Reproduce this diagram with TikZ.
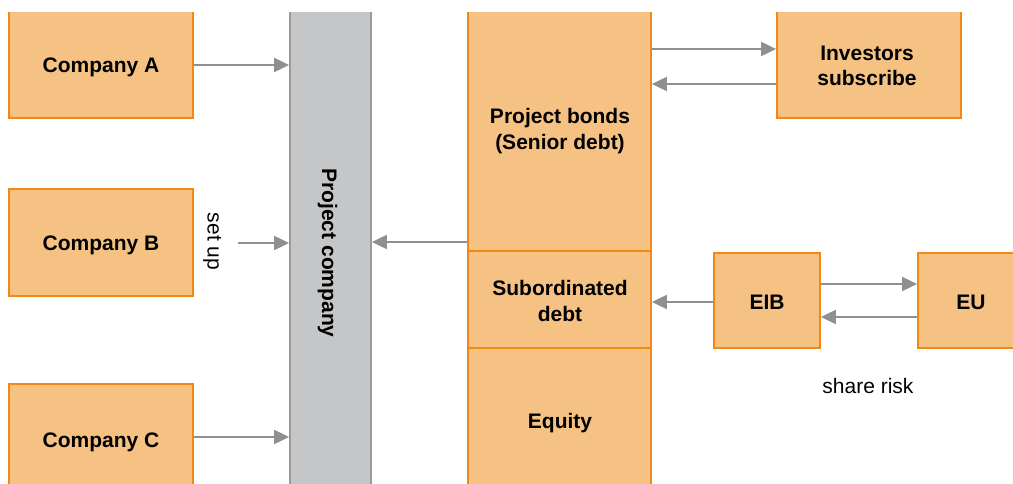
\documentclass[tikz,border=0pt]{standalone}
\usepackage{fontspec}
\setmainfont{Liberation Sans}
\usetikzlibrary{arrows.meta}
\definecolor{boxfill}{HTML}{F5C284}
\definecolor{boxline}{HTML}{F08A12}
\definecolor{barfill}{HTML}{C5C6C8}
\definecolor{barline}{HTML}{999A9C}
\definecolor{arrowgray}{HTML}{8D8F91}
\tikzset{
  box/.style={draw=boxline, fill=boxfill, line width=1.8pt, inner sep=0pt},
  bar/.style={draw=barline, fill=barfill, line width=1.8pt, inner sep=0pt},
  lbl/.style={font=\bfseries\fontsize{21}{25.5}\selectfont, align=center, inner sep=0pt},
  note/.style={font=\fontsize{21}{25.5}\selectfont, inner sep=0pt},
  arr/.style={draw=arrowgray, line width=2pt, -{Triangle[length=15pt,width=14pt]}},
}
\begin{document}
\begin{tikzpicture}[x=1pt,y=-1pt]
\useasboundingbox[fill=white] (0,0) rectangle (1013,484);
\begin{scope}
\clip (0,13) rectangle (1013,484);
% left companies
\node[box, minimum width=184pt, minimum height=138pt] (ca) at (101,49) {};
\node[box, minimum width=184pt, minimum height=107pt] (cb) at (101,242.5) {};
\node[box, minimum width=184pt, minimum height=110pt] (cc) at (101,439) {};
% project company bar
\node[bar, minimum width=81pt, minimum height=524pt] (pc) at (330.5,242) {};
% financing stack
\node[box, minimum width=183pt, minimum height=271pt] (bonds) at (559.5,115.5) {};
\node[box, minimum width=183pt, minimum height=97pt] (sub) at (559.5,299.5) {};
\node[box, minimum width=183pt, minimum height=152pt] (eq) at (559.5,424) {};
% right boxes
\node[box, minimum width=184pt, minimum height=138pt] (inv) at (869,49) {};
\node[box, minimum width=106pt, minimum height=95pt] (eib) at (767,300.5) {};
\node[box, minimum width=122pt, minimum height=95pt] (eu) at (979,300.5) {};
\end{scope}
% texts
\node[lbl, anchor=base] (caT) at (101,73) {Company A};
\node[lbl, anchor=base] (cbT) at (101,251) {Company B};
\node[lbl, anchor=base] (ccT) at (101,447) {Company C};
\node[lbl, anchor=base, rotate=-90] (pcT) at (322,253) {Project company};
\node[lbl] (bondsT) at (560,131) {Project bonds\\(Senior debt)};
\node[lbl] (subT) at (560,301) {Subordinated\\debt};
\node[lbl, anchor=base] (eqT) at (560,428) {Equity};
\node[lbl] (invT) at (867,66) {Investors\\subscribe};
\node[lbl, anchor=base] (eibT) at (767,309) {EIB};
\node[lbl, anchor=base] (euT) at (971,309) {EU};
\node[note, anchor=base, rotate=-90] (setup) at (207.5,241.5) {set up};
\node[note, anchor=base] (share) at (868,393) {share risk};
% connectors
\coordinate (bstart) at (238,243);
\draw[arr] (ca.east |- 0,65) -- (pc.west |- 0,65);
\draw[arr] (bstart) -- (pc.west |- bstart);
\draw[arr] (cc.east |- 0,437) -- (pc.west |- 0,437);
\draw[arr] (bonds.west |- 0,242) -- (pc.east |- 0,242);
\draw[arr] (bonds.east |- 0,49) -- (inv.west |- 0,49);
\draw[arr] (inv.west |- 0,84) -- (bonds.east |- 0,84);
\draw[arr] (eib.west |- 0,302) -- (sub.east |- 0,302);
\draw[arr] (eib.east |- 0,284) -- (eu.west |- 0,284);
\draw[arr] (eu.west |- 0,317) -- (eib.east |- 0,317);
\end{tikzpicture}
\end{document}
